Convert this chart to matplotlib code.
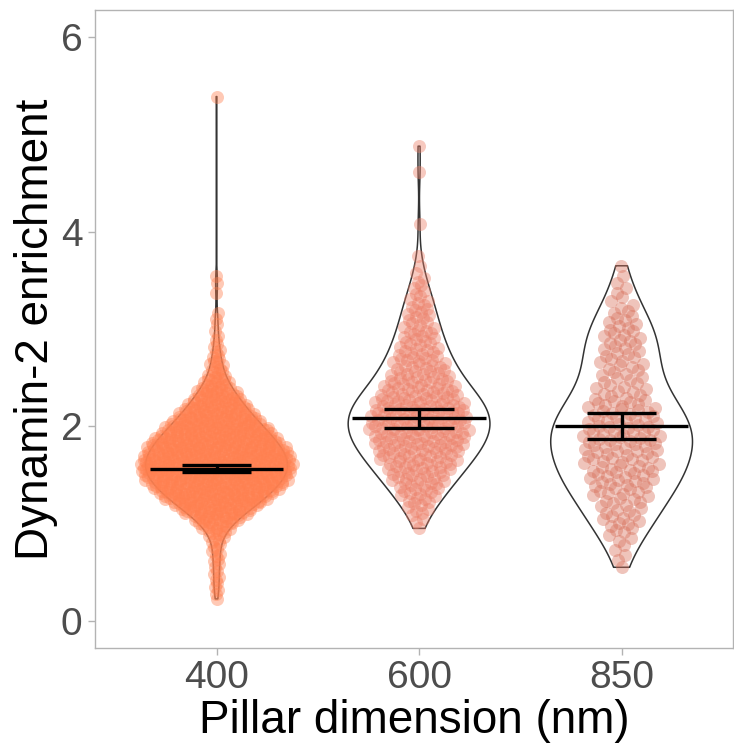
import numpy as np
import matplotlib
matplotlib.use('Agg')
import matplotlib.pyplot as plt
from matplotlib import cbook

plt.rcParams['font.family'] = ['Liberation Sans', 'DejaVu Sans']

# ---------------- data ----------------
categories = ['400', '600', '850']
x_label = 'Pillar dimension (nm)'
y_label = 'Dynamin-2 enrichment'
y_ticks = [0, 2, 4, 6]

# histogram reading: bin centres (bin width 0.1) and number of points per bin
bins_400 = [0.25, 0.35, 0.45, 0.55, 0.65, 0.75, 0.85, 0.95, 1.05, 1.15,
            1.25, 1.35, 1.45, 1.55, 1.65, 1.75, 1.85, 1.95, 2.05, 2.15,
            2.25, 2.35, 2.45, 2.55, 2.65, 2.75, 2.85, 2.95]
counts_400 = [2, 3, 3, 3, 4, 4, 6, 13, 24, 38,
              53, 64, 74, 80, 79, 74, 66, 56, 46, 36,
              28, 20, 13, 8, 6, 4, 3, 2]
outliers_400 = [3.05, 3.10, 3.16, 3.37, 3.47, 3.55, 5.39]

bins_600 = [0.95, 1.05, 1.15, 1.25, 1.35, 1.45, 1.55, 1.65, 1.75, 1.85,
            1.95, 2.05, 2.15, 2.25, 2.35, 2.45, 2.55, 2.65, 2.75, 2.85,
            2.95, 3.05, 3.15, 3.25, 3.35, 3.45, 3.55, 3.65, 3.75]
counts_600 = [1, 3, 5, 7, 10, 12, 15, 17, 20, 22,
              23, 24, 23, 21, 18, 15, 13, 11, 10, 8,
              8, 6, 6, 5, 4, 3, 2, 1, 1]
outliers_600 = [4.08, 4.61, 4.88]

bins_850 = [0.55, 0.65, 0.75, 0.85, 0.95, 1.05, 1.15, 1.25, 1.35, 1.45,
            1.55, 1.65, 1.75, 1.85, 1.95, 2.05, 2.15, 2.25, 2.35, 2.45,
            2.55, 2.65, 2.75, 2.85, 2.95, 3.05, 3.15, 3.25, 3.35, 3.45,
            3.55, 3.65]
counts_850 = [1, 2, 2, 3, 5, 6, 6, 7, 9, 10,
              10, 11, 11, 12, 12, 11, 10, 9, 7, 6,
              6, 6, 6, 6, 6, 5, 4, 3, 2, 2,
              1, 1]
outliers_850 = []

means = [1.565, 2.08, 2.00]
errors = [0.04, 0.095, 0.135]

colors = ['#FF8050', '#EC7F68', '#D9735E']
swarm_widths = [0.38, 0.25, 0.20]

# ---------------- helpers ----------------
BIN_W = 0.1


def expand(bins, counts, extra):
    vals = []
    for c, k in zip(bins, counts):
        vals.extend(list(c - BIN_W / 2 + (np.arange(k) + 0.5) / k * BIN_W))
    vals.extend(extra)
    return np.sort(np.array(vals))


def nrd0(x):
    sd = np.std(x, ddof=1)
    iqr = np.subtract(*np.percentile(x, [75, 25]))
    lo = min(sd, iqr / 1.34)
    return 0.9 * lo * len(x) ** (-0.2)


def kde(x, coords):
    bw = nrd0(x)
    z = (coords[:, None] - x[None, :]) / bw
    return np.exp(-0.5 * z ** 2).sum(axis=1) / (len(x) * bw * np.sqrt(2 * np.pi))


def vdc(n):
    out = np.zeros(n)
    for i in range(n):
        k = i + 1
        f = 0.5
        v = 0.0
        while k > 0:
            v += f * (k % 2)
            k //= 2
            f /= 2
        out[i] = v
    return out


data = [expand(bins_400, counts_400, outliers_400),
        expand(bins_600, counts_600, outliers_600),
        expand(bins_850, counts_850, outliers_850)]
positions = [1, 2, 3]

# ---------------- figure ----------------
fig = plt.figure(figsize=(7.34, 7.45), dpi=100)
ax = fig.add_axes([95 / 734, 97 / 745, 638 / 734, 638 / 745])

vpstats = cbook.violin_stats(data, lambda X, coords: kde(np.asarray(X), np.asarray(coords)), points=400)
parts = ax.violin(vpstats, positions=positions, widths=0.7,
                  showmeans=False, showextrema=False, showmedians=False)
for b in parts['bodies']:
    b.set_facecolor('none')
    b.set_edgecolor('#333333')
    b.set_linewidth(1.1)
    b.set_alpha(1)
    b.set_zorder(1)

for pos, vals, col, w in zip(positions, data, colors, swarm_widths):
    n = len(vals)
    dens = kde(vals, vals)
    dens = dens / dens.max()
    order = np.argsort(vals, kind='stable')
    ranks = np.empty(n, dtype=int)
    ranks[order] = np.arange(n)
    off = vdc(n)[ranks] * 2 - 1
    xs = pos + off * w * dens
    ax.scatter(xs, vals, s=88, color=col, alpha=0.42, linewidths=0, zorder=2)

mean_half = 0.33
cap_half = 0.172
for pos, m, e in zip(positions, means, errors):
    ax.hlines(m, pos - mean_half, pos + mean_half, color='black', lw=2.4, zorder=4)
    ax.hlines([m - e, m + e], pos - cap_half, pos + cap_half, color='black', lw=2.4, zorder=4)
    ax.vlines(pos, m - e, m + e, color='black', lw=2.4, zorder=4)

ax.set_xlim(0.4, 3.55)
ax.set_ylim(-0.28, 6.28)
ax.set_xticks(positions)
ax.set_xticklabels(categories)
ax.set_yticks(y_ticks)
ax.tick_params(axis='both', colors='#B3B3B3', length=5, width=1.0, labelsize=28,
               labelcolor='#4D4D4D', pad=4)
for sp in ax.spines.values():
    sp.set_color('#B3B3B3')
    sp.set_linewidth(1.0)
ax.set_xlabel(x_label, fontsize=33, color='black', labelpad=2)
ax.set_ylabel(y_label, fontsize=33, color='black', labelpad=2)

fig.savefig('out.png', dpi=100)
